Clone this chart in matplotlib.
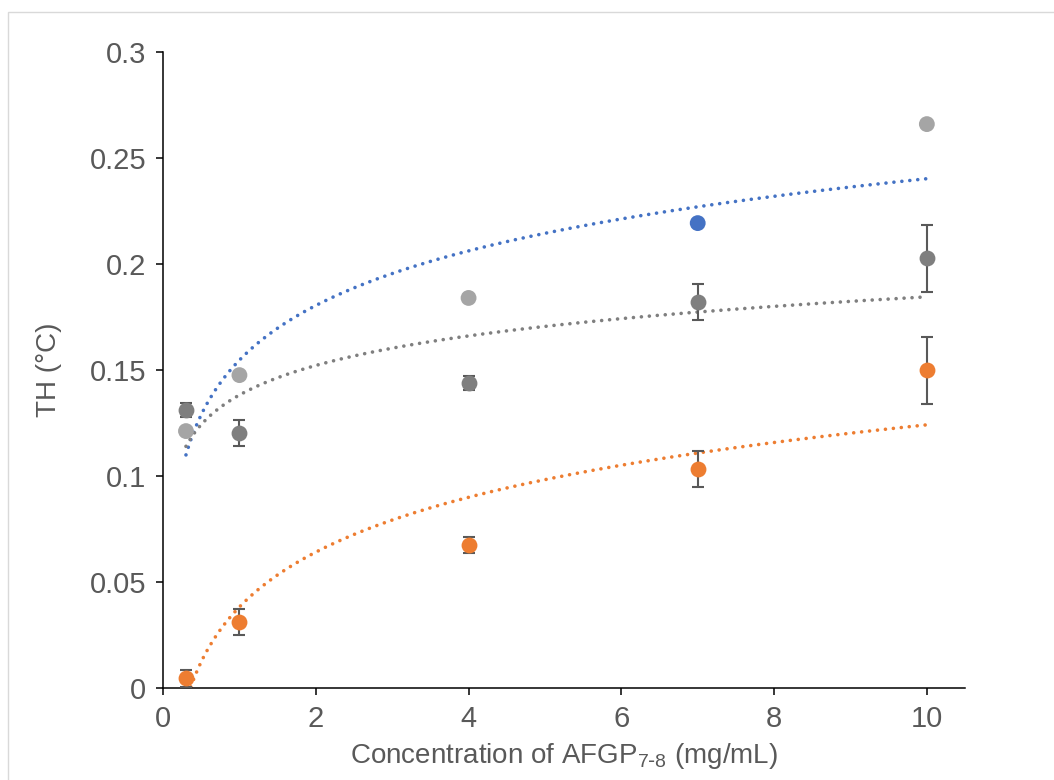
import matplotlib
matplotlib.use('Agg')
import matplotlib.pyplot as plt
import numpy as np

plt.rcParams['font.family'] = ['Liberation Sans', 'DejaVu Sans']

conc = [0.3, 1, 4, 7, 10]

# series 1 (light grey points, one shown blue)
th_light = [0.1212, 0.1476, 0.1840, 0.2193, 0.2660]
light_cols = ['#A5A5A5', '#A5A5A5', '#A5A5A5', '#4472C4', '#A5A5A5']

# series 2 (dark grey)
th_dark = [0.1311, 0.1203, 0.1439, 0.1821, 0.2028]
err_dark = [0.0033, 0.0060, 0.0035, 0.0087, 0.0158]

# series 3 (orange)
th_orange = [0.0047, 0.0311, 0.0675, 0.1033, 0.1500]
err_orange = [0.0040, 0.0060, 0.0038, 0.0087, 0.0158]

fig = plt.figure(figsize=(10.54, 7.8), dpi=100)
ax = fig.add_axes([0.1547, 0.1179, 0.7609, 0.8154])

# chart border (Excel style)
fig.patches.append(plt.Rectangle((8/1054, -0.1), 1.2, 1 - 12/780 + 0.1,
                                 transform=fig.transFigure, fill=False,
                                 edgecolor='#D9D9D9', lw=1, zorder=0))

# logarithmic trendlines fitted to the data
xs = np.linspace(0.3, 10, 300)
for ys, col in [(th_light, '#4472C4'), (th_dark, '#7F7F7F'), (th_orange, '#ED7D31')]:
    b, a = np.polyfit(np.log(conc), ys, 1)
    ax.plot(xs, a + b*np.log(xs), color=col, lw=2.6, dashes=(0.01, 2.2),
            dash_capstyle='round', zorder=2)

ax.errorbar(conc, th_dark, yerr=err_dark, fmt='none', ecolor='#595959',
            elinewidth=1.5, capsize=4.5, capthick=1.5, zorder=3)
ax.errorbar(conc, th_orange, yerr=err_orange, fmt='none', ecolor='#595959',
            elinewidth=1.5, capsize=4.5, capthick=1.5, zorder=3)

ax.scatter(conc, th_light, s=130, color=light_cols, zorder=4, lw=0)
ax.scatter(conc, th_dark, s=130, color='#7F7F7F', zorder=4, lw=0)
ax.scatter(conc, th_orange, s=130, color='#ED7D31', zorder=4, lw=0)

ax.set_xlim(0, 10.5)
ax.set_ylim(0, 0.3)
ax.set_xticks([0, 2, 4, 6, 8, 10])
ax.set_yticks([0, 0.05, 0.1, 0.15, 0.2, 0.25, 0.3])
ax.set_yticklabels(['0', '0.05', '0.1', '0.15', '0.2', '0.25', '0.3'])

for s in ['top', 'right']:
    ax.spines[s].set_visible(False)
for s in ['left', 'bottom']:
    ax.spines[s].set_linewidth(1.1)
ax.tick_params(direction='out', length=5, width=1.1, labelsize=21,
               labelcolor='#595959', pad=7)

ax.set_ylabel('TH (°C)', fontsize=20, color='#595959', labelpad=20)
ax.set_xlabel('Concentration of AFGP$_{\\mathregular{7\\text{-}8}}$ (mg/mL)',
              fontsize=20, color='#595959', labelpad=6)

plt.savefig('out.png', dpi=100)
